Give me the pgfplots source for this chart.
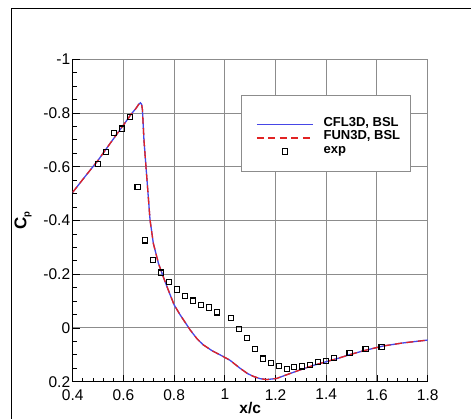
\documentclass[border=0pt]{standalone}
\usepackage{pgfplots}
\pgfplotsset{compat=1.18}
\usepackage{fontspec}
\setmainfont{Liberation Sans}
\definecolor{blueline}{RGB}{70,70,230}
\definecolor{redline}{RGB}{225,35,35}
\definecolor{gridgray}{RGB}{140,140,140}
\begin{document}
\begin{tikzpicture}
\useasboundingbox (0,0) rectangle (471pt,419pt);
\fill[white] (0,0) rectangle (471pt,419pt);
\draw[line width=1.3pt] (11.7pt,-5pt) -- (11.7pt,410.7pt) -- (480pt,410.7pt);
\begin{axis}[
  at={(72.7pt,37.3pt)}, anchor=south west,
  scale only axis, width=355pt, height=322.4pt,
  xmin=0.4, xmax=1.8, ymin=-1, ymax=0.2,
  y dir=reverse,
  xtick={0.4,0.6,...,1.8}, ytick={-1,-0.8,-0.6,-0.4,-0.2,0,0.2},
  minor x tick num=4, minor y tick num=3,
  axis x line*=bottom, axis y line*=left,
  axis line style={black, line width=1pt, -},
  tick align=inside,
  major tick length=7pt, minor tick length=4pt,
  tick style={black, line width=0.8pt},
  grid=major,
  major grid style={gridgray, line width=1pt},
  /pgf/number format/assume math mode=true,
  ticklabel style={font=\fontsize{15.5}{17}\selectfont},
  xticklabel style={yshift=-4pt},
  yticklabel style={xshift=1pt},
  xlabel={\bfseries x/c},
  ylabel={\bfseries C\raisebox{-0.35ex}{\fontsize{9.5}{10}\selectfont p}},
  xlabel style={font=\fontsize{15.5}{17}\selectfont, yshift=5pt},
  ylabel style={font=\fontsize{17}{19}\selectfont, yshift=5pt},
  legend style={at={(axis cs:1.1228,-0.712)}, anchor=west,
    draw=none, fill=none, inner sep=0pt,
    font=\bfseries\fontsize{13}{14}\selectfont,
    nodes={inner sep=0pt, text height=11pt, text depth=4.5pt},
    row sep=-2pt, column sep=10pt},
  legend cell align=left,
  legend image code/.code={\draw[mark repeat=2,mark phase=2] plot coordinates {(0pt,-1.3pt) (28pt,-1.3pt) (56pt,-1.3pt)};},
]
\addlegendimage{blueline, line width=1.3pt}
\addlegendentry{CFL3D, BSL}
\addlegendimage{redline, line width=1.4pt, dash pattern=on 7pt off 4.5pt}
\addlegendentry{FUN3D, BSL}
\addlegendimage{only marks, mark=square, mark size=2.6pt, mark options={black, line width=1.1pt, fill=none}}
\addlegendentry{exp}
\addplot[forget plot, blueline, line width=1.3pt] coordinates {
(0.400,-0.505) (0.450,-0.565) (0.500,-0.624) (0.550,-0.690) (0.600,-0.755)
(0.630,-0.795) (0.650,-0.818) (0.660,-0.832) (0.667,-0.838) (0.672,-0.832)
(0.675,-0.812) (0.681,-0.700) (0.689,-0.600) (0.696,-0.514) (0.705,-0.402)
(0.718,-0.315) (0.738,-0.241) (0.757,-0.191) (0.777,-0.141) (0.800,-0.086)
(0.823,-0.050) (0.863,0.007) (0.890,0.040) (0.915,0.063) (0.950,0.085)
(0.981,0.100) (1.020,0.120) (1.060,0.150) (1.090,0.170) (1.112,0.180)
(1.140,0.189) (1.165,0.192) (1.204,0.188) (1.250,0.172) (1.300,0.155)
(1.350,0.139) (1.402,0.125) (1.450,0.112) (1.494,0.099) (1.550,0.084)
(1.625,0.067) (1.700,0.056) (1.800,0.045)};
\addplot[forget plot, redline, line width=1.3pt, dash pattern=on 7pt off 4.5pt] coordinates {
(0.400,-0.505) (0.450,-0.565) (0.500,-0.624) (0.550,-0.690) (0.600,-0.755)
(0.630,-0.795) (0.650,-0.818) (0.660,-0.832) (0.667,-0.838) (0.672,-0.832)
(0.675,-0.812) (0.681,-0.700) (0.689,-0.600) (0.696,-0.514) (0.705,-0.402)
(0.718,-0.315) (0.738,-0.241) (0.757,-0.191) (0.777,-0.141) (0.800,-0.086)
(0.823,-0.050) (0.863,0.007) (0.890,0.040) (0.915,0.063) (0.950,0.085)
(0.981,0.100) (1.020,0.120) (1.060,0.150) (1.090,0.170) (1.112,0.180)
(1.140,0.189) (1.165,0.192) (1.204,0.188) (1.250,0.172) (1.300,0.155)
(1.350,0.139) (1.402,0.125) (1.450,0.112) (1.494,0.099) (1.550,0.084)
(1.625,0.067) (1.700,0.056) (1.800,0.045)};
\addplot[forget plot, only marks, mark=square, mark size=2.6pt, mark options={black, line width=1.1pt, fill=none}] coordinates {
(0.499,-0.609) (0.531,-0.654) (0.563,-0.726) (0.595,-0.742) (0.625,-0.785)
(0.656,-0.524) (0.686,-0.326) (0.718,-0.252) (0.749,-0.206) (0.781,-0.171)
(0.812,-0.143) (0.843,-0.118) (0.874,-0.102) (0.906,-0.086) (0.937,-0.076)
(0.968,-0.058) (1.023,-0.038) (1.055,0.003) (1.086,0.038) (1.119,0.078)
(1.150,0.114) (1.182,0.130) (1.213,0.141) (1.244,0.153) (1.274,0.146)
(1.305,0.143) (1.337,0.137) (1.368,0.127) (1.400,0.122) (1.430,0.111)
(1.492,0.092) (1.555,0.079) (1.618,0.070)};
\draw[gridgray, line width=0.8pt, fill=white] (axis cs:1.0637,-0.8645) rectangle (axis cs:1.7328,-0.5843);
\end{axis}
\end{tikzpicture}
\end{document}
